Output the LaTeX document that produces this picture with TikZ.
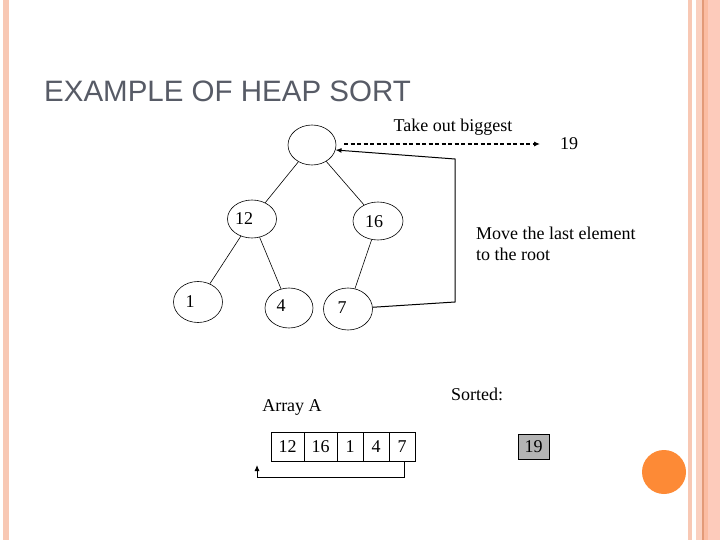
\documentclass[tikz,border=0pt]{standalone}
\usepackage{fontspec}
\setmainfont{Liberation Serif}
\newfontfamily\titlefont{Liberation Sans}
\usetikzlibrary{shapes.geometric,arrows.meta}
\definecolor{titlegray}{HTML}{575B66}
\definecolor{stripeA}{HTML}{F8C8B4}
\definecolor{stripeB}{HTML}{FAD0C0}
\definecolor{stripeC}{HTML}{E39A78}
\definecolor{stripeD}{HTML}{FBBCA2}
\definecolor{stripeE}{HTML}{FDCBBB}
\definecolor{dotorange}{HTML}{FD8A36}
\definecolor{sortgray}{HTML}{B4B4B4}
\begin{document}
\begin{tikzpicture}[x=1pt,y=-1pt,
  txt/.style={font=\fontsize{18}{21}\selectfont, inner sep=0pt},
  tnode/.style={draw, ellipse, inner sep=0pt, line width=0.6pt},
  edge/.style={line width=0.6pt},
  cell/.style={draw, rectangle, minimum height=29, inner sep=0pt, outer sep=0pt, line width=0.8pt, font=\fontsize{18}{21}\selectfont},
  tip/.style={-{Latex[length=6pt,width=5pt]}}]
\useasboundingbox (0,0) rectangle (720,540);
\fill[white] (0,0) rectangle (720,540);
% borders
\fill[stripeA] (3,0) rectangle (9,540);
\fill[stripeA] (688,0) rectangle (692,540);
\fill[stripeB] (696,0) rectangle (702,540);
\fill[stripeC] (702,0) rectangle (704,540);
\fill[stripeD] (704,0) rectangle (708,540);
\fill[stripeE] (708,0) rectangle (720,540);
% title
\node[anchor=base west, inner sep=0pt, text=titlegray, font=\titlefont\fontsize{29.5}{32}\selectfont] (title) at (44,102) {EXAMPLE OF HEAP SORT};
% tree
\node[tnode, minimum width=48, minimum height=40] (root) at (312,145) {};
\node[tnode, minimum width=49, minimum height=38, label={[txt, shift={(-8,0)}]center:12}] (n12) at (252,219) {};
\node[tnode, minimum width=50, minimum height=38, label={[txt, shift={(-4,1)}]center:16}] (n16) at (378,221) {};
\node[tnode, minimum width=49, minimum height=41, label={[txt, shift={(-8,0)}]center:1}] (n1) at (198,302) {};
\node[tnode, minimum width=48, minimum height=40, label={[txt, shift={(-8,-2)}]center:4}] (n4) at (289,308) {};
\node[tnode, minimum width=49, minimum height=42, label={[txt, shift={(-6,-1)}]center:7}] (n7) at (348,309) {};
\draw[edge] (root) -- (n12);
\draw[edge] (root) -- (n16);
\draw[edge] (n12) -- (n1);
\draw[edge] (n12) -- (n4);
\draw[edge] (n16) -- (n7);
% take out biggest
\node[txt] (take) at (453,127) {Take out biggest};
\node[txt] (big) at (569,144) {19};
\coordinate (dashS) at (344,144);
\coordinate (dashE) at (540,144);
\draw[tip, line width=1.1pt, dash pattern=on 4pt off 2.5pt] (dashS) -- (dashE);
% move last element
\coordinate (m1) at (455,302);
\coordinate (m2) at (455,159);
\draw[tip, line width=1pt] (n7.4) -- (m1) -- (m2) -- (root.-12);
\node[txt, anchor=west, align=left] (move) at (476,243.5) {Move the last element\\to the root};
% array
\node[txt] (arrlab) at (292,407) {Array A};
\node[txt] (sortlab) at (477,394) {Sorted:};
\node[cell, minimum width=33] (a1) at (287.5,446.5) {12};
\node[cell, minimum width=33] (a2) at (320.5,446.5) {16};
\node[cell, minimum width=26] (a3) at (350,446.5) {1};
\node[cell, minimum width=26] (a4) at (376,446.5) {4};
\node[cell, minimum width=26] (a5) at (402,446.5) {7};
\coordinate (b1) at (404,477);
\coordinate (b2) at (257,477);
\coordinate (b3) at (257,465);
\draw[tip, line width=0.9pt] (a5.south -| b1) -- (b1) -- (b2) -- (b3);
% sorted
\node[cell, fill=sortgray, minimum width=31, minimum height=25] (s1) at (533.5,446.5) {19};
% orange dot
\fill[dotorange] (664,472) circle (22);
\end{tikzpicture}
\end{document}
